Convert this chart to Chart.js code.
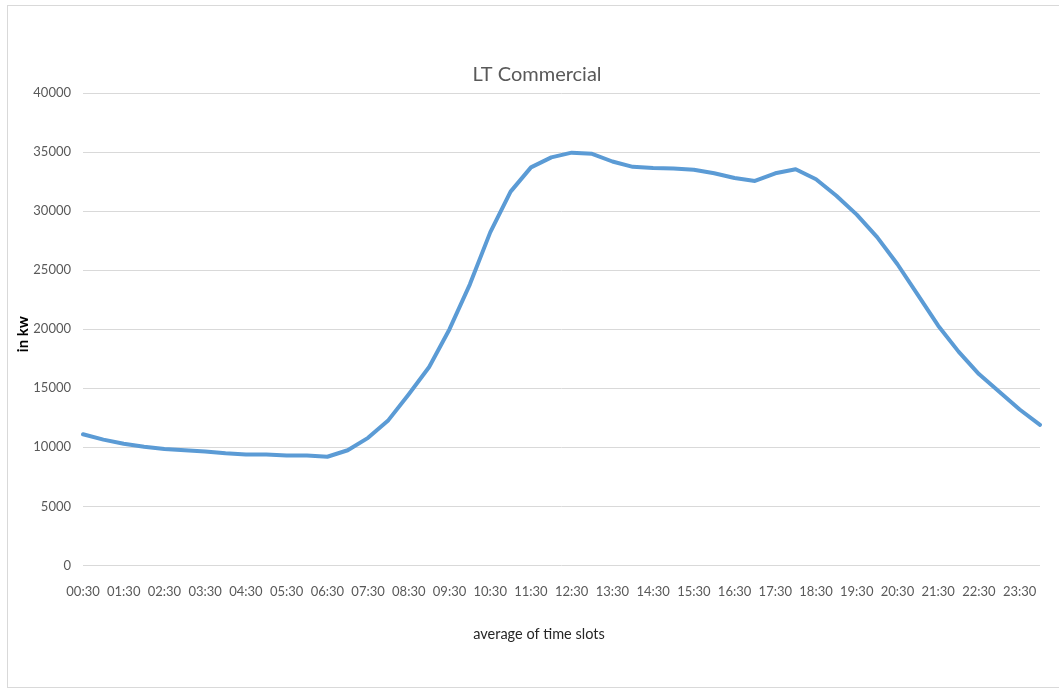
<!DOCTYPE html>
<html>
<head>
<meta charset="utf-8">
<title>LT Commercial</title>
<script src="https://cdn.jsdelivr.net/npm/chart.js@4.4.1/dist/chart.umd.min.js"></script>
<style>
  html, body { margin: 0; padding: 0; background: #ffffff; }
  #wrap { position: relative; width: 1059px; height: 693px; overflow: hidden; }
  #frame { position: absolute; left: 7px; top: 5px; width: 1060px; height: 683px;
           border: 1px solid #d9d9d9; box-sizing: border-box; pointer-events: none; }
  canvas { position: absolute; left: 0; top: 0; }
</style>
</head>
<body>
<div id="wrap">
  <canvas id="chart" width="1059" height="693"></canvas>
  <div id="frame"></div>
</div>
<script>
// Half-hourly time slots
const timeSlots = [
  "00:30","01:00","01:30","02:00","02:30","03:00","03:30","04:00",
  "04:30","05:00","05:30","06:00","06:30","07:00","07:30","08:00",
  "08:30","09:00","09:30","10:00","10:30","11:00","11:30","12:00",
  "12:30","13:00","13:30","14:00","14:30","15:00","15:30","16:00",
  "16:30","17:00","17:30","18:00","18:30","19:00","19:30","20:00",
  "20:30","21:00","21:30","22:00","22:30","23:00","23:30","00:00"
];

// Average load per slot, in kW
const loadKw = [
  11100, 10650, 10300, 10050, 9850, 9750, 9650, 9500,
  9400, 9400, 9300, 9300, 9200, 9750, 10800, 12300,
  14500, 16800, 20000, 23800, 28200, 31650, 33700, 34550,
  34950, 34850, 34200, 33750, 33650, 33600, 33500, 33200,
  32800, 32550, 33200, 33550, 32700, 31300, 29700, 27800,
  25500, 22900, 20300, 18100, 16200, 14700, 13200, 11900
];

// Value axis ticks
const yTicks = [0, 5000, 10000, 15000, 20000, 25000, 30000, 35000, 40000];

const chartTitle = "LT Commercial";
const xTitle = "average of time slots";
const yTitle = "in kw";

// Titles are centred on the outer chart frame rather than the plot area
const frameLeft = 7, frameRight = 1067;

const frameTitles = {
  id: "frameTitles",
  afterDraw(chart) {
    const ctx = chart.ctx;
    const area = chart.chartArea;
    const cx = (frameLeft + frameRight) / 2;
    ctx.save();
    ctx.textAlign = "center";
    ctx.textBaseline = "middle";

    ctx.fillStyle = "#595959";
    ctx.font = "normal 20px Lato";
    ctx.fillText(chartTitle, cx, area.top - 18);

    ctx.fillStyle = "#262626";
    ctx.font = "normal 14.5px Lato";
    ctx.fillText(xTitle, cx + 2, area.bottom + 69);

    ctx.translate(23, (area.top + area.bottom) / 2 + 5);
    ctx.rotate(-Math.PI / 2);
    ctx.fillStyle = "#000000";
    ctx.font = "bold 15px Lato";
    ctx.fillText(yTitle, 0, 0);
    ctx.restore();
  }
};

new Chart(document.getElementById("chart"), {
  type: "line",
  data: {
    labels: timeSlots,
    datasets: [{
      label: chartTitle,
      data: loadKw,
      borderColor: "#5b9bd5",
      borderWidth: 4,
      pointRadius: 0,
      tension: 0,
      fill: false,
      borderCapStyle: "round",
      borderJoinStyle: "round"
    }]
  },
  plugins: [frameTitles],
  options: {
    responsive: false,
    animation: false,
    devicePixelRatio: 1,
    layout: { padding: { left: 10, right: 19, top: 93, bottom: 74 } },
    plugins: {
      legend: { display: false },
      tooltip: { enabled: false },
      title: { display: false }
    },
    scales: {
      x: {
        type: "category",
        offset: false,
        grid: { display: false, drawTicks: false },
        border: { display: false },
        ticks: {
          autoSkip: false,
          maxRotation: 0,
          minRotation: 0,
          padding: 19,
          color: "#595959",
          font: { family: "Lato", size: 13 },
          callback: function (value, index) {
            return index % 2 === 0 && index < timeSlots.length - 1 ? timeSlots[index] : "";
          }
        }
      },
      y: {
        min: 0,
        max: 40000,
        afterBuildTicks: function (scale) {
          scale.ticks = yTicks.map(v => ({ value: v }));
        },
        afterFit: function (scale) { scale.width = 73; },
        grid: { color: "#d9d9d9", lineWidth: 1, drawTicks: false },
        border: { display: false },
        ticks: {
          padding: 12,
          color: "#595959",
          font: { family: "Lato", size: 13 },
          callback: function (value) { return String(value); }
        }
      }
    }
  }
});
</script>
</body>
</html>
